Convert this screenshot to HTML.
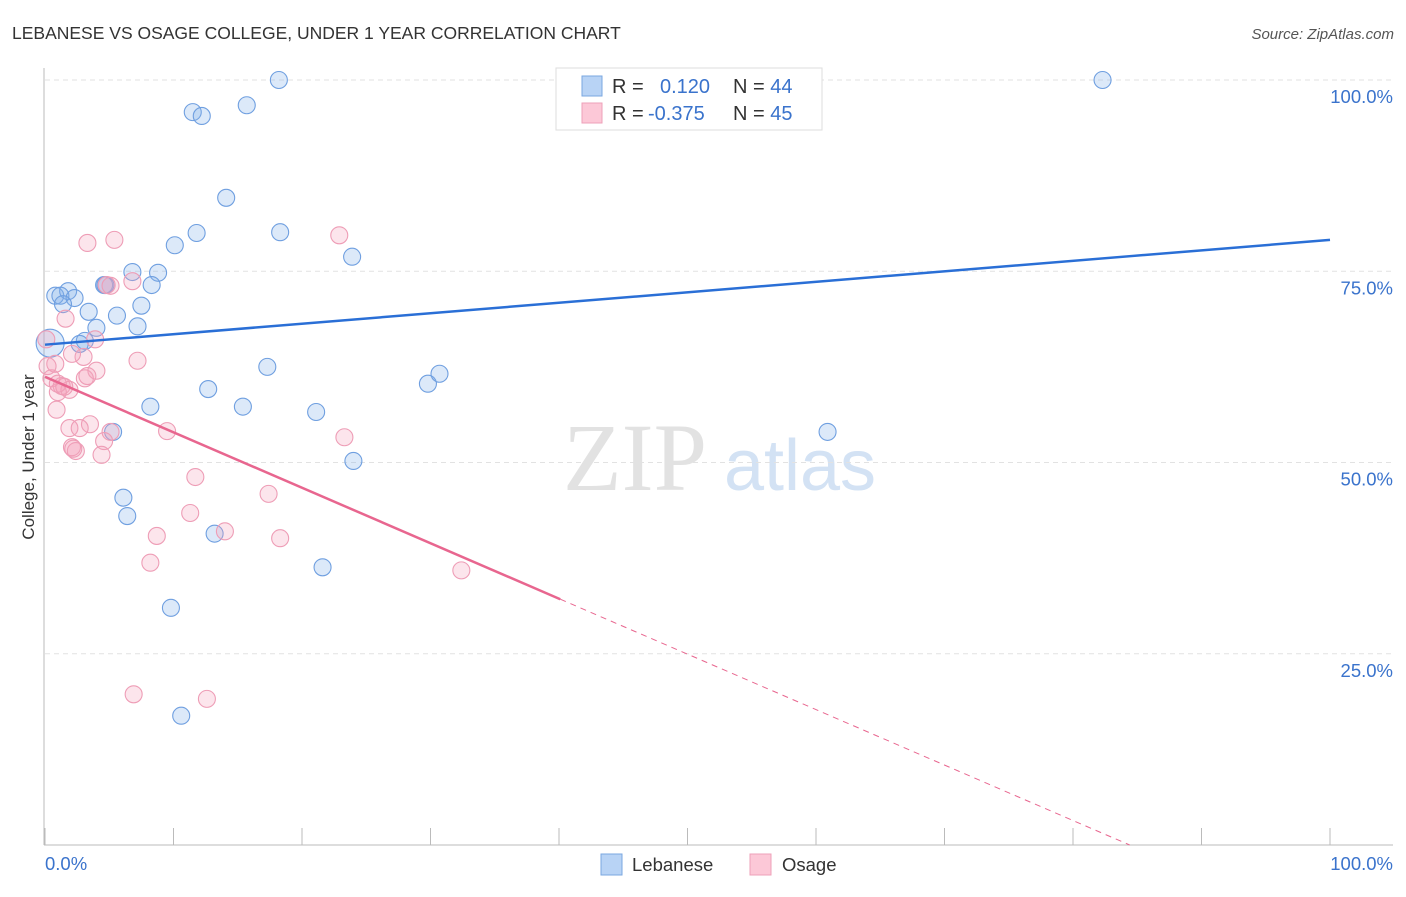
<!DOCTYPE html>
<html><head><meta charset="utf-8"><style>
body{margin:0;background:#fff;font-family:"Liberation Sans",sans-serif}
</style></head><body>
<svg width="1406" height="892" xmlns="http://www.w3.org/2000/svg" font-family="Liberation Sans, sans-serif">
<text x="12" y="39" font-size="17.5" fill="#333">LEBANESE VS OSAGE COLLEGE, UNDER 1 YEAR CORRELATION CHART</text>
<text x="1394" y="39" font-size="15" fill="#555" font-style="italic" text-anchor="end">Source: ZipAtlas.com</text>
<g>
<text x="635" y="490" font-size="96" fill="#e2e2e2" font-family="Liberation Serif, serif" text-anchor="middle">ZIP</text>
<text x="800" y="490" font-size="72" fill="#d3e2f4" text-anchor="middle">atlas</text>
</g>
<g id="grid"></g>
<g id="axes"></g>
<g id="marks"></g>
<text transform="translate(34,457) rotate(-90)" font-size="17" fill="#333" text-anchor="middle">College, Under 1 year</text>
<g>
<rect x="556" y="68" width="266" height="62" fill="#fff" stroke="#ddd"/>
<rect x="582" y="76" width="20" height="20" fill="#b8d3f5" stroke="#7aa7e0"/>
<rect x="582" y="103" width="20" height="20" fill="#fcc8d7" stroke="#eea0b8"/>
<text x="612" y="93" font-size="20" fill="#333">R = <tspan fill="#3a73cc" x="660">0.120</tspan><tspan fill="#333" x="733">N = </tspan><tspan fill="#3a73cc">44</tspan></text>
<text x="612" y="120" font-size="20" fill="#333">R = <tspan fill="#3a73cc" x="648">-0.375</tspan><tspan fill="#333" x="733">N = </tspan><tspan fill="#3a73cc">45</tspan></text>
</g>
<g>
<rect x="601" y="854" width="21" height="21" fill="#b8d3f5" stroke="#7aa7e0"/>
<text x="632" y="871" font-size="18.5" fill="#333">Lebanese</text>
<rect x="750" y="854" width="21" height="21" fill="#fcc8d7" stroke="#eea0b8"/>
<text x="782" y="871" font-size="18.5" fill="#333">Osage</text>
</g>
</svg>
<script>
const blueX=[18.2,82.3,11.5,12.2,15.7,14.1,11.8,18.3,10.1,23.9,6.8,8.8,4.6,8.3,0.8,1.8,1.2,2.3,1.4,7.5,3.4,5.6,7.2,4.0,3.1,2.7,0.4,17.3,12.7,29.8,30.7,8.2,15.4,21.1,5.3,60.9,24.0,6.1,6.4,13.2,21.6,9.8,10.6,4.7];
const blueY=[100,100,95.8,95.3,96.7,84.6,80.0,80.1,78.4,76.9,74.9,74.8,73.2,73.2,71.8,72.4,71.8,71.5,70.7,70.5,69.7,69.2,67.8,67.6,65.9,65.5,65.6,62.5,59.6,60.3,61.6,57.3,57.3,56.6,54.0,54.0,50.2,45.4,43.0,40.7,36.3,31.0,16.9,73.2];
const pinkX=[3.3,5.4,22.9,4.8,6.8,1.6,0.1,3.9,3.0,7.2,0.8,2.1,0.5,4.0,3.1,3.3,1.3,1.9,1.0,0.9,3.5,1.9,2.7,9.5,5.1,23.3,4.6,2.1,2.4,4.4,11.7,17.4,11.3,8.7,14.0,18.3,8.2,32.4,6.9,12.6,1.0,0.2,2.2,1.5,5.1];
const pinkY=[78.7,79.1,79.7,73.2,73.7,68.8,66.1,66.1,63.8,63.3,62.9,64.2,61.0,62.0,61.0,61.3,60.0,59.5,59.2,56.9,55.0,54.5,54.5,54.1,54.0,53.3,52.8,52.0,51.5,51.0,48.1,45.9,43.4,40.4,41.0,40.1,36.9,35.9,19.7,19.1,60.3,62.6,51.8,59.9,73.1];
const blueTrend=[65.4,79.1];
const pinkTrend=[61.2,-0.725];
const pinkSolidEnd=40.1;
const yTicks=[100,75,50,25];
const xTicks=[0,10,20,30,40,50,60,70,80,90,100];
const NS="http://www.w3.org/2000/svg";
const X=v=>45+v*12.85, Y=v=>80+(100-v)*7.65;
function mk(tag,at,parent){const e=document.createElementNS(NS,tag);for(const k in at)e.setAttribute(k,at[k]);document.getElementById(parent).appendChild(e);return e;}
yTicks.forEach(t=>{
 const l=mk('line',{x1:45,x2:1393,y1:Y(t),y2:Y(t),stroke:'#e2e2e2','stroke-dasharray':'5,4'},'grid');
 
 
 const tx=mk('text',{x:1393,y:Y(t)+23,'font-size':18.5,fill:'#3a73cc','text-anchor':'end'},'axes');
 tx.textContent=t.toFixed(1)+'%';
 
 
});
const ax=mk('line',{x1:44,x2:44,y1:68,y2:845,stroke:'#bbb'},'axes');


const bx=mk('line',{x1:44,x2:1393,y1:845,y2:845,stroke:'#bbb'},'axes');


xTicks.forEach(t=>{
 const l=mk('line',{x1:X(t),x2:X(t),y1:828,y2:845,stroke:'#bbb'},'axes');
 
 
});
[[0,'0.0%','start',45],[100,'100.0%','end',1393]].forEach(a=>{
 const tx=mk('text',{x:a[3],y:870,'font-size':18.5,fill:'#3a73cc','text-anchor':a[2]},'axes');
 tx.textContent=a[1];
 
 
});
blueX.forEach((v,i)=>{
 const c=mk('circle',{cx:X(v),cy:Y(blueY[i]),r:i==26?14:8.5,fill:'rgba(130,175,235,0.28)',stroke:'#6f9fe0','stroke-width':1.1},'marks');
 
 
});
pinkX.forEach((v,i)=>{
 const c=mk('circle',{cx:X(v),cy:Y(pinkY[i]),r:8.5,fill:'rgba(245,160,185,0.28)',stroke:'#ee9db6','stroke-width':1.1},'marks');
 
 
});
const bl=mk('line',{x1:X(0),y1:Y(blueTrend[0]),x2:X(100),y2:Y(blueTrend[1]),stroke:'#2a6fd6','stroke-width':2.5},'marks');


const pEnd=-pinkTrend[0]/pinkTrend[1];
const pl=mk('line',{x1:X(0),y1:Y(pinkTrend[0]),x2:X(pinkSolidEnd),y2:Y(pinkTrend[0]+pinkTrend[1]*pinkSolidEnd),stroke:'#e8668f','stroke-width':2.5},'marks');


const pd=mk('line',{x1:X(pinkSolidEnd),y1:Y(pinkTrend[0]+pinkTrend[1]*pinkSolidEnd),x2:X(pEnd),y2:Y(0),stroke:'#e8668f','stroke-width':1,'stroke-dasharray':'6,5'},'marks');


</script>
</body></html>
